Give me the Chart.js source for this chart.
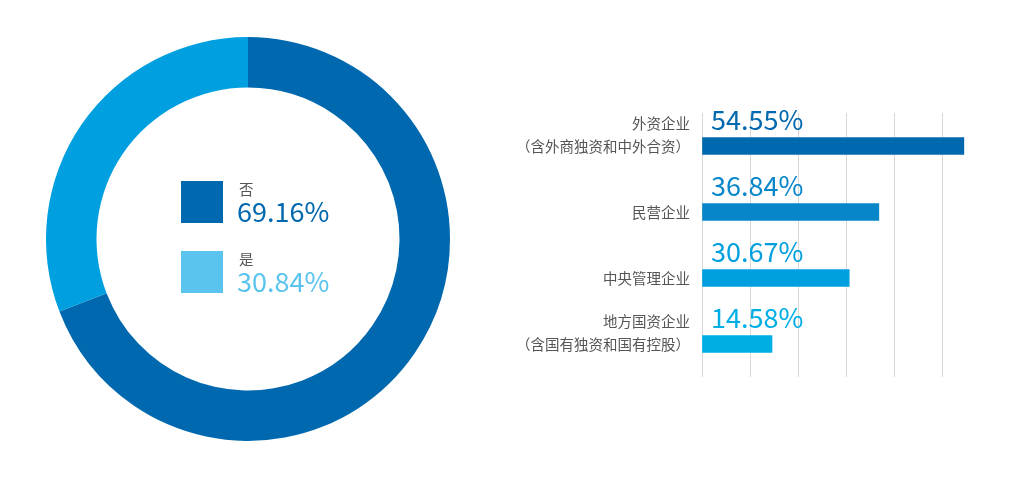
<!DOCTYPE html>
<html>
<head>
<meta charset="utf-8">
<script src="https://cdn.jsdelivr.net/npm/chart.js@4"></script>
<style>
  html, body { margin: 0; padding: 0; background: #fff; }
  #wrap { position: relative; width: 1036px; height: 484px; overflow: hidden; }
  #donut { position: absolute; left: 0; top: 0; }
  #bars { position: absolute; left: 500px; top: 0; }
</style>
</head>
<body>
<div id="wrap">
  <canvas id="donut" width="500" height="484"></canvas>
  <canvas id="bars" width="536" height="484"></canvas>
</div>
<script>
// donut data
const donutLabels = ['否', '是'];
const donutValues = [69.16, 30.84];

// bar data
const barCategories = [
    ['外资企业', '（含外商独资和中外合资）'],
    ['民营企业'],
    ['中央管理企业'],
    ['地方国资企业', '（含国有独资和国有控股）']
];
const barValues = [54.55, 36.84, 30.67, 14.58];

const FONT = "'Noto Sans CJK SC', 'Noto Sans', sans-serif";
const donutColors = ['#0068ae', '#009fe0'];
const legendColors = ['#0068ae', '#5bc4ee'];
const barColors = ['#0068ae', '#0787ca', '#00a0df', '#00aee6'];

const fmt = v => v.toFixed(2) + '%';

// legend in the middle of the ring
const donutLegend = {
    id: 'donutLegend',
    afterDraw(chart) {
        const ctx = chart.ctx;
        ctx.save();
        donutLabels.forEach((lab, i) => {
            const top = 181 + i * 70;
            ctx.fillStyle = legendColors[i];
            ctx.fillRect(181, top, 42, 42);

            ctx.fillStyle = '#555';
            ctx.font = '14.5px ' + FONT;
            ctx.textBaseline = 'middle';
            ctx.textAlign = 'left';
            ctx.fillText(lab, 239, top + 8);

            ctx.fillStyle = legendColors[i];
            ctx.font = '27px ' + FONT;
            ctx.textBaseline = 'alphabetic';
            ctx.fillText(fmt(donutValues[i]), 237, top + 41);
        });
        ctx.restore();
    }
};

new Chart(document.getElementById('donut'), {
    type: 'doughnut',
    data: {
        labels: donutLabels,
        datasets: [{
            data: donutValues,
            backgroundColor: donutColors,
            borderWidth: 0
        }]
    },
    options: {
        responsive: false,
        animation: false,
        cutout: '75%',
        layout: { padding: { left: 46, top: 37, right: 50, bottom: 43 } },
        plugins: { legend: { display: false }, tooltip: { enabled: false } }
    },
    plugins: [donutLegend]
});

// category names on the left, value labels above the bars
const barText = {
    id: 'barText',
    afterDatasetsDraw(chart) {
        const ctx = chart.ctx;
        const left = chart.chartArea.left;
        const meta = chart.getDatasetMeta(0);
        ctx.save();
        meta.data.forEach((bar, i) => {
            const lines = barCategories[i];
            ctx.fillStyle = '#555';
            ctx.font = '14.5px ' + FONT;
            ctx.textAlign = 'right';
            ctx.textBaseline = 'middle';
            lines.forEach((ln, j) => {
                ctx.fillText(ln, left - 12, bar.y - (lines.length - 1 - j) * 23);
            });

            ctx.fillStyle = barColors[i];
            ctx.font = '27px ' + FONT;
            ctx.textAlign = 'left';
            ctx.textBaseline = 'alphabetic';
            ctx.fillText(fmt(barValues[i]), left + 9, bar.y - 16);
        });
        ctx.restore();
    }
};

new Chart(document.getElementById('bars'), {
    type: 'bar',
    data: {
        labels: barCategories.map(c => c.join('')),
        datasets: [{
            data: barValues,
            backgroundColor: barColors,
            barThickness: 17
        }]
    },
    options: {
        indexAxis: 'y',
        responsive: false,
        animation: false,
        layout: { padding: { left: 202, right: 70, top: 113, bottom: 107 } },
        scales: {
            x: {
                min: 0,
                max: 55,
                ticks: { display: false, stepSize: 10 },
                border: { display: false },
                grid: {
                    drawTicks: false,
                    lineWidth: 1,
                    color: c => (c.tick && c.tick.value % 10 === 0) ? '#d9d9d9' : 'rgba(0,0,0,0)'
                }
            },
            y: { display: false }
        },
        plugins: { legend: { display: false }, tooltip: { enabled: false } }
    },
    plugins: [barText]
});
</script>
</body>
</html>
